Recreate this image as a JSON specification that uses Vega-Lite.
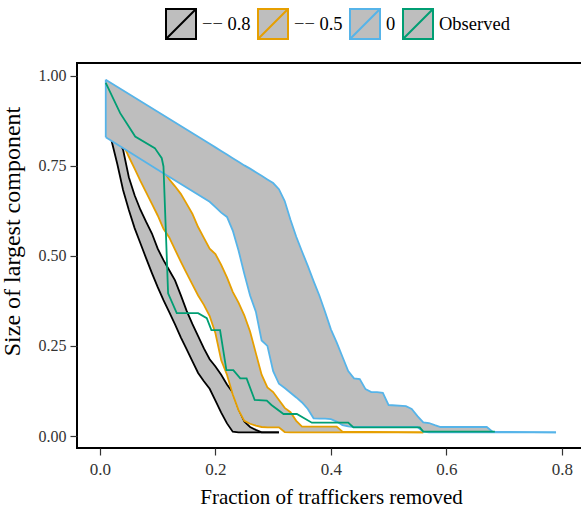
{
  "$schema": "https://vega.github.io/schema/vega-lite/v6.json",
  "width": 512,
  "height": 385,
  "autosize": {"type": "none"},
  "padding": {"left": 77, "top": 63, "right": 0, "bottom": 63},
  "background": "#ffffff",
  "config": {
    "view": {"stroke": "#000000", "strokeWidth": 2},
    "font": "Liberation Serif",
    "axis": {"grid": false, "domain": false, "tickColor": "#333333", "tickWidth": 1.2, "tickSize": 7, "labelFont": "Liberation Serif", "labelColor": "#333333", "titleFont": "Liberation Serif", "titleFontWeight": "normal", "titleColor": "#000000"},
    "legend": {"labelFont": "Liberation Serif"}
  },
  "datasets": {
    "bands": [
      {"group": "−− 0.8", "x": 0.01, "lo": 0.86, "hi": 0.93},
      {"group": "−− 0.8", "x": 0.02, "lo": 0.82, "hi": 0.87},
      {"group": "−− 0.8", "x": 0.03, "lo": 0.755, "hi": 0.83},
      {"group": "−− 0.8", "x": 0.04, "lo": 0.683, "hi": 0.795},
      {"group": "−− 0.8", "x": 0.05, "lo": 0.627, "hi": 0.718},
      {"group": "−− 0.8", "x": 0.06, "lo": 0.577, "hi": 0.668},
      {"group": "−− 0.8", "x": 0.07, "lo": 0.535, "hi": 0.628},
      {"group": "−− 0.8", "x": 0.08, "lo": 0.493, "hi": 0.594},
      {"group": "−− 0.8", "x": 0.09, "lo": 0.452, "hi": 0.562},
      {"group": "−− 0.8", "x": 0.10, "lo": 0.413, "hi": 0.52},
      {"group": "−− 0.8", "x": 0.11, "lo": 0.377, "hi": 0.488},
      {"group": "−− 0.8", "x": 0.12, "lo": 0.344, "hi": 0.46},
      {"group": "−− 0.8", "x": 0.13, "lo": 0.31, "hi": 0.432},
      {"group": "−− 0.8", "x": 0.14, "lo": 0.274, "hi": 0.391},
      {"group": "−− 0.8", "x": 0.15, "lo": 0.241, "hi": 0.348},
      {"group": "−− 0.8", "x": 0.16, "lo": 0.208, "hi": 0.311},
      {"group": "−− 0.8", "x": 0.17, "lo": 0.175, "hi": 0.277},
      {"group": "−− 0.8", "x": 0.18, "lo": 0.152, "hi": 0.243},
      {"group": "−− 0.8", "x": 0.19, "lo": 0.131, "hi": 0.213},
      {"group": "−− 0.8", "x": 0.20, "lo": 0.098, "hi": 0.193},
      {"group": "−− 0.8", "x": 0.21, "lo": 0.065, "hi": 0.17},
      {"group": "−− 0.8", "x": 0.22, "lo": 0.035, "hi": 0.143},
      {"group": "−− 0.8", "x": 0.23, "lo": 0.012, "hi": 0.121},
      {"group": "−− 0.8", "x": 0.24, "lo": 0.01, "hi": 0.075},
      {"group": "−− 0.8", "x": 0.25, "lo": 0.01, "hi": 0.04},
      {"group": "−− 0.8", "x": 0.26, "lo": 0.01, "hi": 0.025},
      {"group": "−− 0.8", "x": 0.27, "lo": 0.01, "hi": 0.017},
      {"group": "−− 0.8", "x": 0.28, "lo": 0.01, "hi": 0.01},
      {"group": "−− 0.8", "x": 0.31, "lo": 0.01, "hi": 0.01},

      {"group": "−− 0.5", "x": 0.01, "lo": 0.90, "hi": 0.97},
      {"group": "−− 0.5", "x": 0.02, "lo": 0.87, "hi": 0.93},
      {"group": "−− 0.5", "x": 0.03, "lo": 0.84, "hi": 0.905},
      {"group": "−− 0.5", "x": 0.04, "lo": 0.81, "hi": 0.88},
      {"group": "−− 0.5", "x": 0.05, "lo": 0.775, "hi": 0.855},
      {"group": "−− 0.5", "x": 0.06, "lo": 0.742, "hi": 0.83},
      {"group": "−− 0.5", "x": 0.07, "lo": 0.708, "hi": 0.81},
      {"group": "−− 0.5", "x": 0.08, "lo": 0.676, "hi": 0.79},
      {"group": "−− 0.5", "x": 0.09, "lo": 0.644, "hi": 0.77},
      {"group": "−− 0.5", "x": 0.10, "lo": 0.612, "hi": 0.75},
      {"group": "−− 0.5", "x": 0.11, "lo": 0.575, "hi": 0.735},
      {"group": "−− 0.5", "x": 0.12, "lo": 0.551, "hi": 0.712},
      {"group": "−− 0.5", "x": 0.13, "lo": 0.517, "hi": 0.693},
      {"group": "−− 0.5", "x": 0.14, "lo": 0.484, "hi": 0.672},
      {"group": "−− 0.5", "x": 0.15, "lo": 0.452, "hi": 0.645},
      {"group": "−− 0.5", "x": 0.16, "lo": 0.421, "hi": 0.617},
      {"group": "−− 0.5", "x": 0.17, "lo": 0.39, "hi": 0.58},
      {"group": "−− 0.5", "x": 0.18, "lo": 0.364, "hi": 0.55},
      {"group": "−− 0.5", "x": 0.19, "lo": 0.333, "hi": 0.52},
      {"group": "−− 0.5", "x": 0.20, "lo": 0.285, "hi": 0.505},
      {"group": "−− 0.5", "x": 0.21, "lo": 0.21, "hi": 0.475},
      {"group": "−− 0.5", "x": 0.22, "lo": 0.17, "hi": 0.44},
      {"group": "−− 0.5", "x": 0.23, "lo": 0.115, "hi": 0.40},
      {"group": "−− 0.5", "x": 0.24, "lo": 0.072, "hi": 0.37},
      {"group": "−− 0.5", "x": 0.25, "lo": 0.042, "hi": 0.335},
      {"group": "−− 0.5", "x": 0.26, "lo": 0.034, "hi": 0.29},
      {"group": "−− 0.5", "x": 0.27, "lo": 0.029, "hi": 0.23},
      {"group": "−− 0.5", "x": 0.28, "lo": 0.025, "hi": 0.17},
      {"group": "−− 0.5", "x": 0.29, "lo": 0.024, "hi": 0.135},
      {"group": "−− 0.5", "x": 0.30, "lo": 0.024, "hi": 0.122},
      {"group": "−− 0.5", "x": 0.31, "lo": 0.024, "hi": 0.10},
      {"group": "−− 0.5", "x": 0.32, "lo": 0.011, "hi": 0.078},
      {"group": "−− 0.5", "x": 0.33, "lo": 0.01, "hi": 0.066},
      {"group": "−− 0.5", "x": 0.34, "lo": 0.01, "hi": 0.042},
      {"group": "−− 0.5", "x": 0.35, "lo": 0.01, "hi": 0.026},
      {"group": "−− 0.5", "x": 0.41, "lo": 0.01, "hi": 0.026},
      {"group": "−− 0.5", "x": 0.42, "lo": 0.01, "hi": 0.012},
      {"group": "−− 0.5", "x": 0.56, "lo": 0.01, "hi": 0.01},

      {"group": "0", "x": 0.01, "lo": 0.829, "hi": 0.989},
      {"group": "0", "x": 0.10, "lo": 0.739, "hi": 0.90},
      {"group": "0", "x": 0.19, "lo": 0.65, "hi": 0.811},
      {"group": "0", "x": 0.20, "lo": 0.635, "hi": 0.801},
      {"group": "0", "x": 0.21, "lo": 0.62, "hi": 0.791},
      {"group": "0", "x": 0.22, "lo": 0.608, "hi": 0.781},
      {"group": "0", "x": 0.23, "lo": 0.57, "hi": 0.771},
      {"group": "0", "x": 0.24, "lo": 0.515, "hi": 0.761},
      {"group": "0", "x": 0.25, "lo": 0.45, "hi": 0.751},
      {"group": "0", "x": 0.26, "lo": 0.39, "hi": 0.742},
      {"group": "0", "x": 0.27, "lo": 0.345, "hi": 0.732},
      {"group": "0", "x": 0.28, "lo": 0.265, "hi": 0.722},
      {"group": "0", "x": 0.29, "lo": 0.25, "hi": 0.712},
      {"group": "0", "x": 0.30, "lo": 0.18, "hi": 0.702},
      {"group": "0", "x": 0.31, "lo": 0.145, "hi": 0.685},
      {"group": "0", "x": 0.32, "lo": 0.133, "hi": 0.652},
      {"group": "0", "x": 0.33, "lo": 0.12, "hi": 0.60},
      {"group": "0", "x": 0.34, "lo": 0.107, "hi": 0.553},
      {"group": "0", "x": 0.35, "lo": 0.093, "hi": 0.512},
      {"group": "0", "x": 0.36, "lo": 0.075, "hi": 0.472},
      {"group": "0", "x": 0.37, "lo": 0.049, "hi": 0.43},
      {"group": "0", "x": 0.38, "lo": 0.048, "hi": 0.39},
      {"group": "0", "x": 0.39, "lo": 0.048, "hi": 0.344},
      {"group": "0", "x": 0.40, "lo": 0.047, "hi": 0.296},
      {"group": "0", "x": 0.41, "lo": 0.04, "hi": 0.26},
      {"group": "0", "x": 0.42, "lo": 0.03, "hi": 0.22},
      {"group": "0", "x": 0.43, "lo": 0.027, "hi": 0.18},
      {"group": "0", "x": 0.44, "lo": 0.025, "hi": 0.16},
      {"group": "0", "x": 0.45, "lo": 0.025, "hi": 0.158},
      {"group": "0", "x": 0.46, "lo": 0.025, "hi": 0.13},
      {"group": "0", "x": 0.47, "lo": 0.025, "hi": 0.122},
      {"group": "0", "x": 0.48, "lo": 0.025, "hi": 0.122},
      {"group": "0", "x": 0.49, "lo": 0.025, "hi": 0.12},
      {"group": "0", "x": 0.50, "lo": 0.025, "hi": 0.086},
      {"group": "0", "x": 0.53, "lo": 0.025, "hi": 0.083},
      {"group": "0", "x": 0.54, "lo": 0.025, "hi": 0.075},
      {"group": "0", "x": 0.55, "lo": 0.025, "hi": 0.055},
      {"group": "0", "x": 0.56, "lo": 0.012, "hi": 0.038},
      {"group": "0", "x": 0.57, "lo": 0.01, "hi": 0.036},
      {"group": "0", "x": 0.58, "lo": 0.01, "hi": 0.03},
      {"group": "0", "x": 0.59, "lo": 0.01, "hi": 0.025},
      {"group": "0", "x": 0.67, "lo": 0.01, "hi": 0.025},
      {"group": "0", "x": 0.68, "lo": 0.01, "hi": 0.012},
      {"group": "0", "x": 0.79, "lo": 0.01, "hi": 0.01}
    ],
    "obs": [
      {"group": "Observed", "x": 0.01, "y": 0.98},
      {"group": "Observed", "x": 0.035, "y": 0.896},
      {"group": "Observed", "x": 0.046, "y": 0.869},
      {"group": "Observed", "x": 0.061, "y": 0.831},
      {"group": "Observed", "x": 0.095, "y": 0.799},
      {"group": "Observed", "x": 0.107, "y": 0.771},
      {"group": "Observed", "x": 0.11, "y": 0.748},
      {"group": "Observed", "x": 0.118, "y": 0.396},
      {"group": "Observed", "x": 0.133, "y": 0.341},
      {"group": "Observed", "x": 0.17, "y": 0.341},
      {"group": "Observed", "x": 0.185, "y": 0.327},
      {"group": "Observed", "x": 0.193, "y": 0.294},
      {"group": "Observed", "x": 0.208, "y": 0.294},
      {"group": "Observed", "x": 0.219, "y": 0.183},
      {"group": "Observed", "x": 0.231, "y": 0.183},
      {"group": "Observed", "x": 0.243, "y": 0.16},
      {"group": "Observed", "x": 0.254, "y": 0.16},
      {"group": "Observed", "x": 0.268, "y": 0.1},
      {"group": "Observed", "x": 0.289, "y": 0.098},
      {"group": "Observed", "x": 0.297, "y": 0.086},
      {"group": "Observed", "x": 0.318, "y": 0.061},
      {"group": "Observed", "x": 0.341, "y": 0.061},
      {"group": "Observed", "x": 0.367, "y": 0.037},
      {"group": "Observed", "x": 0.43, "y": 0.037},
      {"group": "Observed", "x": 0.439, "y": 0.024},
      {"group": "Observed", "x": 0.554, "y": 0.024},
      {"group": "Observed", "x": 0.56, "y": 0.012},
      {"group": "Observed", "x": 0.684, "y": 0.012}
    ]
  },
  "encoding": {
    "x": {
      "field": "x", "type": "quantitative",
      "scale": {"domain": [-0.0398, 0.8471], "nice": false, "zero": false},
      "axis": {"values": [0, 0.2, 0.4, 0.6, 0.8], "format": ".1f", "labelFont": "Liberation Serif", "labelFontSize": 17, "labelPadding": 6, "title": "Fraction of traffickers removed", "titleFont": "Liberation Serif", "titleFontSize": 21, "titleX": 254, "titleY": 55, "titleBaseline": "alphabetic"}
    }
  },
  "layer": [
    {"data": {"name": "bands"}, "transform": [{"filter": "datum.group === '−− 0.8'"}], "mark": {"type": "area", "color": "#BEBEBE", "opacity": 1},
     "encoding": {"y": {"field": "lo", "type": "quantitative", "scale": {"domain": [-0.0333, 1.0352], "nice": false, "zero": false}, "axis": {"values": [0, 0.25, 0.5, 0.75, 1], "format": ".2f", "labelFont": "Liberation Serif", "labelFontSize": 16, "labelPadding": 4, "title": "Size of largest component", "titleFont": "Liberation Serif", "titleFontSize": 24, "titleX": -58, "titleY": 168, "titleBaseline": "alphabetic", "titleAngle": 270}}, "y2": {"field": "hi"}}},
    {"data": {"name": "bands"}, "transform": [{"filter": "datum.group === '−− 0.8'"}], "mark": {"type": "line", "strokeWidth": 1.8},
     "encoding": {"y": {"field": "lo", "type": "quantitative"}, "color": {"field": "group", "type": "nominal", "scale": {"domain": ["−− 0.8", "−− 0.5", "0", "Observed"], "range": ["#000000", "#E69F00", "#56B4E9", "#009E73"]},
       "legend": {"title": null, "orient": "none", "legendX": 88, "legendY": -55, "direction": "horizontal", "padding": 0, "symbolType": "M-1,-1H1V1H-1Z M-1,1L1,-1", "symbolSize": 900, "symbolStrokeWidth": 2, "symbolFillColor": "#BEBEBE", "labelFont": "Liberation Serif", "labelFontSize": 18.5, "labelColor": "#000000", "labelOffset": 5, "columnPadding": 3, "labelLimit": 200,
         "encode": {"symbols": {"update": {"fill": {"value": "#BEBEBE"}, "opacity": {"value": 1}}}}}}}},
    {"data": {"name": "bands"}, "transform": [{"filter": "datum.group === '−− 0.8'"}], "mark": {"type": "line", "strokeWidth": 1.8},
     "encoding": {"y": {"field": "hi", "type": "quantitative"}, "color": {"field": "group", "type": "nominal"}}},

    {"data": {"name": "bands"}, "transform": [{"filter": "datum.group === '−− 0.5'"}], "mark": {"type": "area", "color": "#BEBEBE", "opacity": 1},
     "encoding": {"y": {"field": "lo", "type": "quantitative"}, "y2": {"field": "hi"}}},
    {"data": {"name": "bands"}, "transform": [{"filter": "datum.group === '−− 0.5'"}], "mark": {"type": "line", "strokeWidth": 1.8},
     "encoding": {"y": {"field": "lo", "type": "quantitative"}, "color": {"field": "group", "type": "nominal"}}},
    {"data": {"name": "bands"}, "transform": [{"filter": "datum.group === '−− 0.5'"}], "mark": {"type": "line", "strokeWidth": 1.8},
     "encoding": {"y": {"field": "hi", "type": "quantitative"}, "color": {"field": "group", "type": "nominal"}}},

    {"data": {"name": "bands"}, "transform": [{"filter": "datum.group === '0'"}], "mark": {"type": "area", "color": "#BEBEBE", "opacity": 1},
     "encoding": {"y": {"field": "lo", "type": "quantitative"}, "y2": {"field": "hi"}}},
    {"data": {"name": "bands"}, "transform": [{"filter": "datum.group === '0' && datum.x === 0.01"}], "mark": {"type": "rule", "strokeWidth": 1.8, "color": "#56B4E9"},
     "encoding": {"y": {"field": "lo", "type": "quantitative"}, "y2": {"field": "hi"}}},
    {"data": {"name": "bands"}, "transform": [{"filter": "datum.group === '0'"}], "mark": {"type": "line", "strokeWidth": 1.8},
     "encoding": {"y": {"field": "lo", "type": "quantitative"}, "color": {"field": "group", "type": "nominal"}}},
    {"data": {"name": "bands"}, "transform": [{"filter": "datum.group === '0'"}], "mark": {"type": "line", "strokeWidth": 1.8},
     "encoding": {"y": {"field": "hi", "type": "quantitative"}, "color": {"field": "group", "type": "nominal"}}},

    {"data": {"name": "obs"}, "mark": {"type": "line", "strokeWidth": 1.8},
     "encoding": {"y": {"field": "y", "type": "quantitative"}, "color": {"field": "group", "type": "nominal"}}}
  ]
}
